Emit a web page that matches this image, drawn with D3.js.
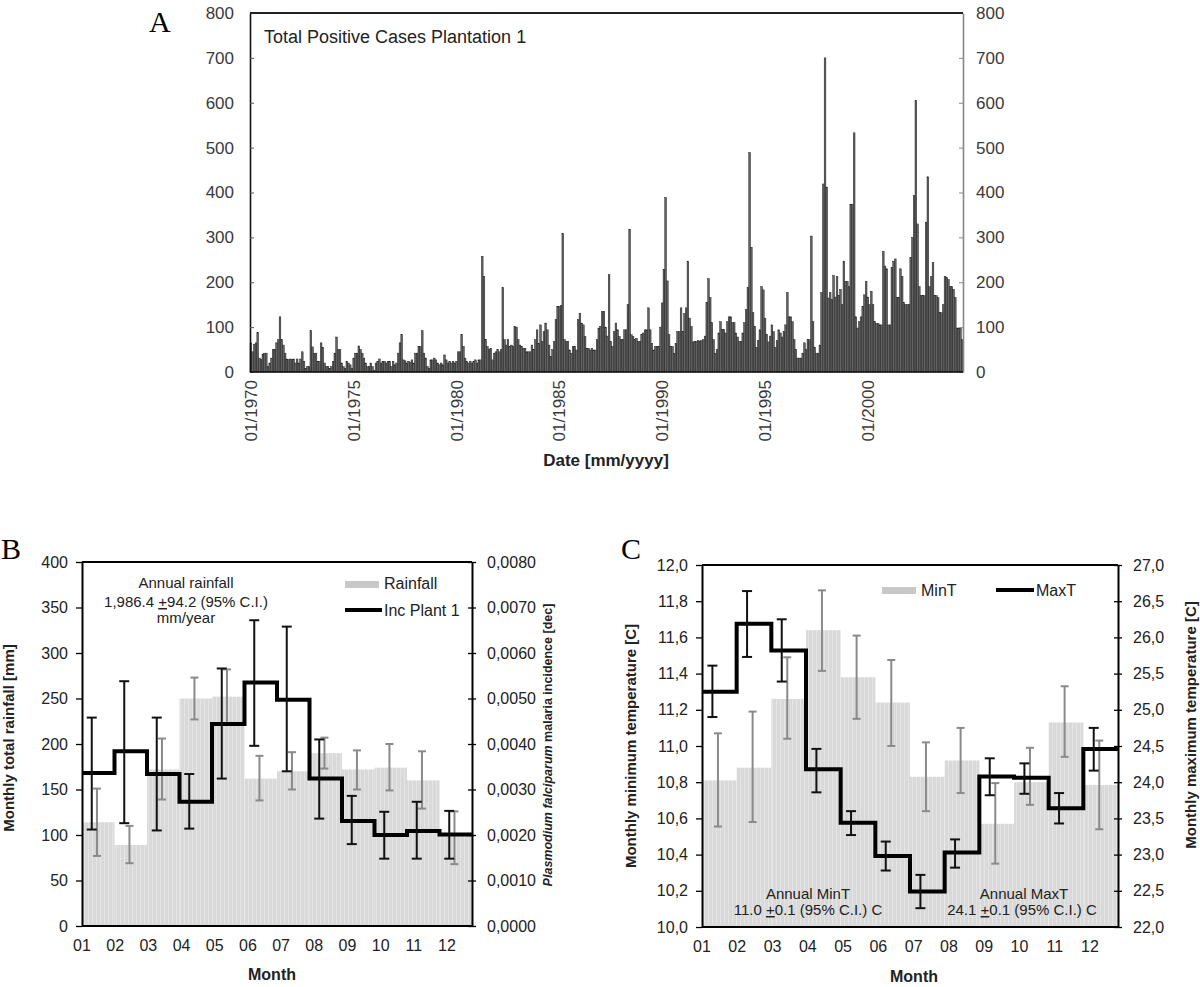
<!DOCTYPE html>
<html><head><meta charset="utf-8">
<script src="https://cdn.jsdelivr.net/npm/d3@7"></script>
<style>
body{margin:0;background:#fff}
svg{display:block}
text{font-family:"Liberation Sans",Arial,Helvetica,sans-serif}
text.serif{font-family:"Liberation Serif","Times New Roman",serif}
</style>
</head><body>
<svg id="chart" width="1200" height="987"></svg>
<script>
// ---------- DATA ----------
// Panel A: monthly total positive cases, Plantation 1 (01/1970 .. 08/2004)
const cases = [
  65, 45, 62, 65, 88, 31, 28, 40, 42, 42, 12, 20,        // 1970
  31, 50, 50, 65, 72, 123, 72, 60, 42, 29, 28, 29,       // 1971
  28, 29, 20, 29, 20, 29, 45, 24, 8, 12, 12, 92,         // 1972
  56, 42, 42, 24, 24, 65, 55, 20, 12, 12, 8, 12,         // 1973
  24, 42, 78, 50, 50, 20, 12, 8, 24, 20, 16, 8,          // 1974
  31, 42, 42, 58, 50, 42, 31, 20, 12, 12, 20, 12,        // 1975
  4, 20, 24, 29, 20, 24, 24, 20, 24, 24, 12, 24,         // 1976
  16, 20, 42, 65, 83, 27, 25, 20, 24, 22, 27, 20,        // 1977
  42, 42, 57, 57, 92, 42, 31, 12, 8, 27, 27, 31,         // 1978
  27, 20, 16, 20, 16, 38, 27, 20, 24, 20, 24, 20,        // 1979
  24, 45, 45, 83, 57, 31, 24, 20, 24, 20, 24, 27,        // 1980
  20, 27, 27, 258, 213, 72, 57, 50, 53, 27, 42, 45,      // 1981
  50, 45, 50, 188, 72, 60, 72, 57, 60, 57, 101, 100,     // 1982
  72, 60, 57, 53, 53, 45, 45, 45, 60, 50, 72, 94,        // 1983
  64, 105, 68, 90, 109, 94, 60, 34, 50, 68, 117, 146,    // 1984
  146, 148, 309, 72, 68, 68, 49, 42, 57, 57, 49, 117,    // 1985
  131, 109, 105, 79, 53, 53, 49, 53, 49, 49, 72, 98,     // 1986
  102, 135, 135, 100, 80, 217, 68, 57, 90, 109, 94, 79,  // 1987
  72, 72, 94, 94, 150, 318, 83, 79, 72, 75, 68, 68,      // 1988
  83, 87, 94, 94, 143, 94, 64, 49, 57, 57, 57, 100,      // 1989
  154, 229, 389, 203, 83, 57, 57, 42, 64, 90, 90, 143,   // 1990
  90, 130, 143, 247, 120, 101, 67, 68, 68, 70, 68, 70,   // 1991
  72, 80, 155, 208, 166, 110, 72, 42, 50, 87, 112, 95,   // 1992
  95, 87, 112, 123, 123, 110, 110, 87, 78, 68, 68, 87,   // 1993
  110, 139, 188, 489, 278, 132, 101, 55, 70, 94, 190, 183, // 1994
  120, 83, 67, 80, 105, 90, 55, 70, 94, 87, 78, 90,      // 1995
  105, 177, 123, 123, 112, 72, 50, 31, 31, 31, 42, 65,   // 1996
  50, 72, 72, 303, 112, 55, 42, 42, 60, 177, 419, 700,   // 1997
  412, 165, 177, 161, 215, 167, 213, 170, 184, 150, 247, 202, // 1998
  202, 190, 374, 374, 533, 123, 98, 112, 123, 146, 172, 202,  // 1999
  167, 150, 180, 150, 112, 108, 108, 105, 105, 269, 236, 230, // 2000
  105, 105, 233, 247, 252, 166, 166, 230, 213, 155, 150, 150, // 2001
  150, 255, 300, 393, 605, 330, 190, 170, 170, 170, 334, 435, // 2002
  190, 213, 244, 170, 170, 166, 132, 132, 150, 213, 210, 206, // 2003
  190, 190, 184, 166, 98, 98, 98, 72                          // 2004
];
const dateTickIndex = [0, 60, 120, 180, 240, 300, 360];
const dateTickLabels = ["01/1970", "01/1975", "01/1980", "01/1985", "01/1990", "01/1995", "01/2000"];
const casesTicks = [0, 100, 200, 300, 400, 500, 600, 700, 800];

// Panel B
const months = ["01","02","03","04","05","06","07","08","09","10","11","12"];
const rainfall   = [114, 89, 172, 250, 252, 162, 170, 190, 172, 174, 160, 100];
const rainfallLo = [77, 69, 139, 227, 222, 138, 150, 173, 150, 149, 129, 68];
const rainfallHi = [151, 110, 206, 273, 282, 187, 191, 207, 193, 200, 192, 126];
const incidence   = [0.00336, 0.00384, 0.00334, 0.00273, 0.00444, 0.00535, 0.00497, 0.00324, 0.00231, 0.00200, 0.00209, 0.00201];
const incidenceLo = [0.00212, 0.00226, 0.00210, 0.00214, 0.00324, 0.00396, 0.00340, 0.00236, 0.00180, 0.00148, 0.00148, 0.00148];
const incidenceHi = [0.00458, 0.00538, 0.00458, 0.00334, 0.00566, 0.00672, 0.00658, 0.00410, 0.00286, 0.00251, 0.00273, 0.00253];
const rainTicks = [0, 50, 100, 150, 200, 250, 300, 350, 400];
const incTicks = [0, 0.001, 0.002, 0.003, 0.004, 0.005, 0.006, 0.007, 0.008];

// Panel C
const minT   = [10.81, 10.88, 11.26, 11.64, 11.38, 11.24, 10.83, 10.92, 10.57, 10.80, 11.13, 10.785];
const minTLo = [10.555, 10.58, 11.04, 11.415, 11.15, 11.00, 10.64, 10.74, 10.35, 10.675, 10.94, 10.54];
const minTHi = [11.07, 11.19, 11.49, 11.86, 11.61, 11.475, 11.02, 11.10, 10.795, 10.99, 11.33, 11.03];
const maxT   = [25.25, 26.19, 25.82, 24.18, 23.44, 22.98, 22.49, 23.03, 24.08, 24.06, 23.64, 24.46];
const maxTLo = [24.90, 25.73, 25.39, 23.86, 23.27, 22.78, 22.26, 22.82, 23.82, 23.84, 23.43, 24.16];
const maxTHi = [25.61, 26.64, 26.25, 24.46, 23.60, 23.18, 22.72, 23.21, 24.33, 24.26, 23.85, 24.75];
const minTTicks = [10.0, 10.2, 10.4, 10.6, 10.8, 11.0, 11.2, 11.4, 11.6, 11.8, 12.0];
const maxTTicks = [22.0, 22.5, 23.0, 23.5, 24.0, 24.5, 25.0, 25.5, 26.0, 26.5, 27.0];

// ---------- DRAW ----------
const svg = d3.select("#chart");
const defs = svg.append("defs");
const pat = defs.append("pattern").attr("id", "stripes").attr("patternUnits", "userSpaceOnUse")
  .attr("width", 4).attr("height", 10);
pat.append("rect").attr("width", 4).attr("height", 10).attr("fill", "#d9d9d9");
pat.append("rect").attr("width", 1).attr("height", 10).attr("fill", "#e4e4e4");

const comma = f => (d => f(d).replace(".", ","));

// ===== Panel A =====
const A = {l: 250, r: 963, t: 13, b: 372};
const xA = d3.scaleBand().domain(d3.range(cases.length)).range([A.l, A.r]).padding(0);
const yA = d3.scaleLinear().domain([0, 800]).range([A.b, A.t]);
const gA = svg.append("g");

gA.append("g").selectAll("rect").data(cases).join("rect")
  .attr("x", (d, i) => xA(i))
  .attr("width", xA.bandwidth())
  .attr("y", d => yA(d))
  .attr("height", d => yA(0) - yA(d))
  .attr("fill", "#636363")
  .attr("stroke", "#1a1a1a")
  .attr("stroke-width", 0.45);

const axLA = gA.append("g").attr("transform", `translate(${A.l},0)`)
  .call(d3.axisLeft(yA).tickValues(casesTicks).tickSize(-4).tickSizeOuter(0).tickPadding(16));
axLA.select(".domain").attr("stroke", "#111").attr("stroke-width", 1.6);
axLA.selectAll("line").attr("stroke", "#555");
axLA.selectAll("text").attr("font-size", 17).attr("fill", "#3a3a3a");

const axRA = gA.append("g").attr("transform", `translate(${A.r},0)`)
  .call(d3.axisRight(yA).tickValues(casesTicks).tickSize(-4).tickSizeOuter(0).tickPadding(13));
axRA.select(".domain").attr("stroke", "#888").attr("stroke-width", 1.6);
axRA.selectAll("line").attr("stroke", "#888");
axRA.selectAll("text").attr("font-size", 17).attr("fill", "#3a3a3a");

gA.append("line").attr("x1", A.l).attr("x2", A.r).attr("y1", A.t).attr("y2", A.t)
  .attr("stroke", "#222").attr("stroke-width", 2.2);
gA.append("line").attr("x1", A.l).attr("x2", A.r).attr("y1", A.b).attr("y2", A.b)
  .attr("stroke", "#111").attr("stroke-width", 1.6);

gA.append("g").selectAll("text").data(dateTickIndex).join("text")
  .attr("transform", d => `translate(${xA(d) + xA.bandwidth() / 2 + 6},380) rotate(-90)`)
  .attr("text-anchor", "end")
  .attr("font-size", 17).attr("fill", "#3a3a3a")
  .text((d, i) => dateTickLabels[i]);

gA.append("text").attr("x", 264).attr("y", 43).attr("font-size", 18).attr("fill", "#222")
  .text("Total Positive Cases Plantation 1");
gA.append("text").attr("x", 606).attr("y", 466).attr("text-anchor", "middle")
  .attr("font-size", 17).attr("font-weight", "bold").attr("fill", "#222")
  .text("Date [mm/yyyy]");
svg.append("text").attr("class", "serif").attr("x", 149).attr("y", 32).attr("font-size", 30).text("A");

// helper for error bars
function errorBars(g, xs, lo, hi, y, color, cap, width) {
  const grp = g.append("g").attr("stroke", color).attr("stroke-width", width).attr("fill", "none");
  xs.forEach((x, i) => {
    grp.append("line").attr("x1", x).attr("x2", x).attr("y1", y(lo[i])).attr("y2", y(hi[i]));
    grp.append("line").attr("x1", x - cap).attr("x2", x + cap).attr("y1", y(lo[i])).attr("y2", y(lo[i]));
    grp.append("line").attr("x1", x - cap).attr("x2", x + cap).attr("y1", y(hi[i])).attr("y2", y(hi[i]));
  });
}

function monthlyPanel(cfg) {
  const {l, r, t, b} = cfg.box;
  const g = svg.append("g");
  const x = d3.scaleBand().domain(months).range([l, r]).padding(0);
  const xLab = d3.scalePoint().domain(months).range(cfg.labelRange);
  const yL = d3.scaleLinear().domain(cfg.leftDomain).range([b, t]);
  const yR = d3.scaleLinear().domain(cfg.rightDomain).range([b, t]);
  const bw = x.bandwidth();

  g.append("g").selectAll("rect").data(cfg.bars).join("rect")
    .attr("x", (d, i) => x(months[i]))
    .attr("width", bw)
    .attr("y", d => yL(d))
    .attr("height", d => yL(cfg.leftDomain[0]) - yL(d))
    .attr("fill", "url(#stripes)");

  errorBars(g, months.map(m => x(m) + 0.46 * bw), cfg.barsLo, cfg.barsHi, yL, "#8a8a8a", 4, 2);

  const pts = months.map((m, i) => [x(m), yR(cfg.line[i])]);
  pts.push([r, yR(cfg.line[cfg.line.length - 1])]);
  g.append("path").attr("d", d3.line().curve(d3.curveStepAfter)(pts))
    .attr("fill", "none").attr("stroke", "#000").attr("stroke-width", 4);

  errorBars(g, months.map(m => x(m) + 0.3 * bw), cfg.lineLo, cfg.lineHi, yR, "#111", 5, 2);

  const axL = g.append("g").attr("transform", `translate(${l},0)`)
    .call(d3.axisLeft(yL).tickValues(cfg.leftTicks).tickFormat(cfg.leftFmt).tickSize(6).tickSizeOuter(0).tickPadding(8));
  axL.select(".domain").attr("stroke", "#000").attr("stroke-width", 2);
  axL.selectAll("line").attr("stroke", "#000").attr("stroke-width", 1.3);
  axL.selectAll("text").attr("font-size", 16).attr("fill", "#222");

  const axR = g.append("g").attr("transform", `translate(${r},0)`)
    .call(d3.axisRight(yR).tickValues(cfg.rightTicks).tickFormat(cfg.rightFmt).tickSize(4).tickSizeOuter(0).tickPadding(11));
  axR.select(".domain").attr("stroke", "#000").attr("stroke-width", 2);
  axR.selectAll(".tick line").attr("x1", -4).attr("stroke", "#000").attr("stroke-width", 1.3);
  axR.selectAll("text").attr("font-size", 16).attr("fill", "#222");

  g.append("line").attr("x1", l).attr("x2", r).attr("y1", t).attr("y2", t)
    .attr("stroke", "#000").attr("stroke-width", 2);
  g.append("line").attr("x1", l).attr("x2", r).attr("y1", b).attr("y2", b)
    .attr("stroke", "#000").attr("stroke-width", 2);

  g.append("g").selectAll("text").data(months).join("text")
    .attr("x", m => xLab(m)).attr("y", b + 25)
    .attr("text-anchor", "middle").attr("font-size", 16).attr("fill", "#222")
    .text(m => m);
  return {g, x, yL, yR};
}

// ===== Panel B =====
const B = monthlyPanel({
  box: {l: 82, r: 472, t: 562, b: 926},
  labelRange: [82, 447],
  leftDomain: [0, 400], rightDomain: [0, 0.008],
  leftTicks: rainTicks, rightTicks: incTicks,
  leftFmt: d3.format("d"), rightFmt: comma(d3.format(".4f")),
  bars: rainfall, barsLo: rainfallLo, barsHi: rainfallHi,
  line: incidence, lineLo: incidenceLo, lineHi: incidenceHi
});
B.g.append("rect").attr("x", 345).attr("y", 581).attr("width", 34).attr("height", 7).attr("fill", "#c8c8c8");
B.g.append("text").attr("x", 384).attr("y", 589).attr("font-size", 16).attr("fill", "#222").text("Rainfall");
B.g.append("line").attr("x1", 345).attr("x2", 382).attr("y1", 610).attr("y2", 610).attr("stroke", "#000").attr("stroke-width", 4);
B.g.append("text").attr("x", 384).attr("y", 616).attr("font-size", 16).attr("fill", "#222").text("Inc Plant 1");
const annB = B.g.append("g").attr("font-size", 15).attr("fill", "#222").attr("text-anchor", "middle");
annB.append("text").attr("x", 186).attr("y", 588).text("Annual rainfall");
const tB = annB.append("text").attr("x", 186).attr("y", 607);
tB.append("tspan").text("1,986.4 ");
tB.append("tspan").attr("text-decoration", "underline").text("+");
tB.append("tspan").text("94.2 (95% C.I.)");
annB.append("text").attr("x", 186).attr("y", 623).text("mm/year");
svg.append("text").attr("transform", "translate(14,738) rotate(-90)").attr("text-anchor", "middle")
  .attr("font-size", 15).attr("font-weight", "bold").attr("fill", "#222").text("Monthly total rainfall [mm]");
const rtB = svg.append("text").attr("transform", "translate(552,745) rotate(-90)").attr("text-anchor", "middle")
  .attr("font-size", 12.5).attr("font-weight", "bold").attr("fill", "#222");
rtB.append("tspan").attr("font-style", "italic").text("Plasmodium falciparum");
rtB.append("tspan").text(" malaria incidence [dec]");
svg.append("text").attr("x", 272).attr("y", 980).attr("text-anchor", "middle")
  .attr("font-size", 16).attr("font-weight", "bold").attr("fill", "#222").text("Month");
svg.append("text").attr("class", "serif").attr("x", 1).attr("y", 559).attr("font-size", 30).text("B");

// ===== Panel C =====
const C = monthlyPanel({
  box: {l: 702, r: 1118, t: 565, b: 927},
  labelRange: [702, 1090],
  leftDomain: [10, 12], rightDomain: [22, 27],
  leftTicks: minTTicks, rightTicks: maxTTicks,
  leftFmt: comma(d3.format(".1f")), rightFmt: comma(d3.format(".1f")),
  bars: minT, barsLo: minTLo, barsHi: minTHi,
  line: maxT, lineLo: maxTLo, lineHi: maxTHi
});
C.g.append("rect").attr("x", 882).attr("y", 587).attr("width", 34).attr("height", 7).attr("fill", "#c8c8c8");
C.g.append("text").attr("x", 921).attr("y", 596).attr("font-size", 16).attr("fill", "#222").text("MinT");
C.g.append("line").attr("x1", 996).attr("x2", 1034).attr("y1", 590).attr("y2", 590).attr("stroke", "#000").attr("stroke-width", 4);
C.g.append("text").attr("x", 1036).attr("y", 596).attr("font-size", 16).attr("fill", "#222").text("MaxT");
const annC = C.g.append("g").attr("font-size", 15).attr("fill", "#222").attr("text-anchor", "middle");
annC.append("text").attr("x", 808).attr("y", 899).text("Annual MinT");
const tC1 = annC.append("text").attr("x", 808).attr("y", 915);
tC1.append("tspan").text("11.0 ");
tC1.append("tspan").attr("text-decoration", "underline").text("+");
tC1.append("tspan").text("0.1 (95% C.I.) C");
annC.append("text").attr("x", 1024).attr("y", 899).text("Annual MaxT");
const tC2 = annC.append("text").attr("x", 1022).attr("y", 915);
tC2.append("tspan").text("24.1 ");
tC2.append("tspan").attr("text-decoration", "underline").text("+");
tC2.append("tspan").text("0.1 (95% C.I.) C");
svg.append("text").attr("transform", "translate(636,746) rotate(-90)").attr("text-anchor", "middle")
  .attr("font-size", 15).attr("font-weight", "bold").attr("fill", "#222").text("Monthly minimum temperature [C]");
svg.append("text").attr("transform", "translate(1196,725) rotate(-90)").attr("text-anchor", "middle")
  .attr("font-size", 15).attr("font-weight", "bold").attr("fill", "#222").text("Monthly maximum temperature [C]");
svg.append("text").attr("x", 914).attr("y", 982).attr("text-anchor", "middle")
  .attr("font-size", 16).attr("font-weight", "bold").attr("fill", "#222").text("Month");
svg.append("text").attr("class", "serif").attr("x", 621).attr("y", 559).attr("font-size", 30).text("C");
</script>
</body></html>
